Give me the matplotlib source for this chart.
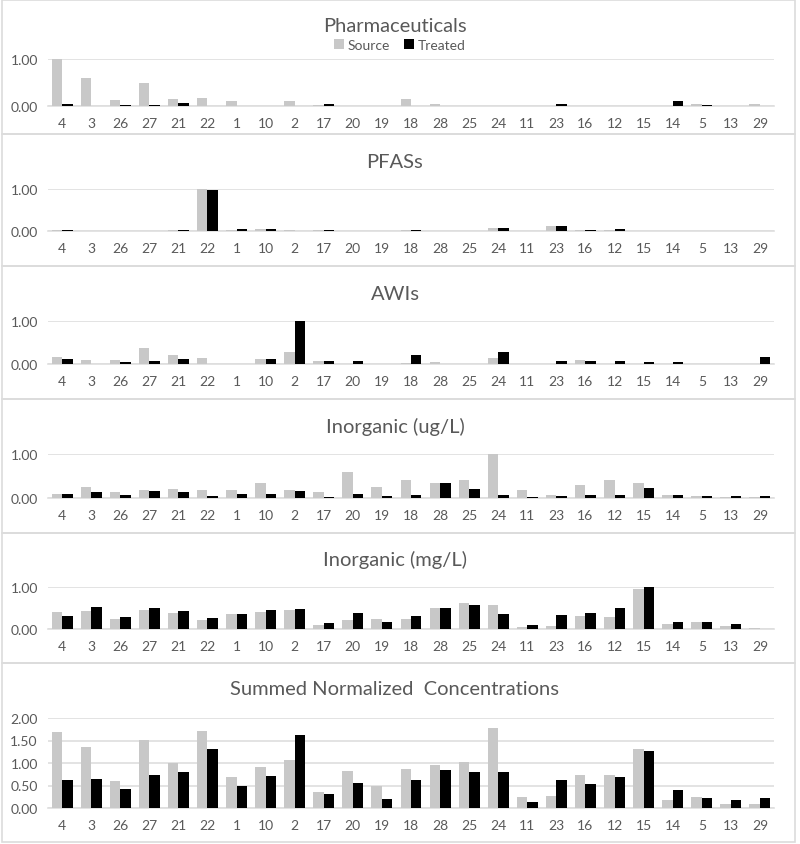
import numpy as np
import matplotlib
matplotlib.use("Agg")
import matplotlib.pyplot as plt
from matplotlib.patches import Rectangle

# Calibri Light no esta, usamos Lato
plt.rcParams['font.family'] = ['Lato', 'DejaVu Sans']

# Datos
sitios = ['4', '3', '26', '27', '21', '22', '1', '10', '2', '17', '20', '19', '18',
          '28', '25', '24', '11', '23', '16', '12', '15', '14', '5', '13', '29']

pharma_source = [1.00, 0.59, 0.12, 0.50, 0.15, 0.18, 0.10, 0.00, 0.10, 0.02, 0.00, 0.00, 0.15,
                 0.05, 0.00, 0.00, 0.00, 0.00, 0.00, 0.00, 0.00, 0.00, 0.04, 0.00, 0.04]
pharma_treated = [0.05, 0.00, 0.03, 0.03, 0.07, 0.00, 0.00, 0.00, 0.00, 0.04, 0.00, 0.00, 0.00,
                  0.00, 0.00, 0.00, 0.00, 0.04, 0.00, 0.00, 0.00, 0.11, 0.03, 0.00, 0.00]

pfas_source = [0.02, 0.00, 0.00, 0.00, 0.02, 1.00, 0.03, 0.05, 0.03, 0.02, 0.00, 0.00, 0.03,
               0.00, 0.00, 0.07, 0.00, 0.12, 0.02, 0.02, 0.00, 0.00, 0.00, 0.00, 0.00]
pfas_treated = [0.03, 0.00, 0.00, 0.00, 0.03, 0.98, 0.04, 0.05, 0.00, 0.03, 0.00, 0.00, 0.03,
                0.00, 0.00, 0.07, 0.00, 0.12, 0.03, 0.04, 0.00, 0.00, 0.00, 0.00, 0.00]

awi_source = [0.17, 0.10, 0.10, 0.38, 0.21, 0.14, 0.00, 0.11, 0.28, 0.06, 0.00, 0.00, 0.03,
              0.05, 0.00, 0.13, 0.00, 0.00, 0.10, 0.00, 0.00, 0.00, 0.00, 0.00, 0.00]
awi_treated = [0.12, 0.00, 0.04, 0.06, 0.11, 0.00, 0.00, 0.11, 1.00, 0.06, 0.06, 0.00, 0.21,
               0.00, 0.00, 0.28, 0.00, 0.07, 0.06, 0.06, 0.04, 0.04, 0.00, 0.00, 0.17]

inorg_ug_source = [0.08, 0.24, 0.13, 0.19, 0.20, 0.19, 0.19, 0.33, 0.19, 0.14, 0.60, 0.26, 0.42,
                   0.33, 0.41, 1.00, 0.19, 0.07, 0.29, 0.41, 0.35, 0.06, 0.04, 0.03, 0.03]
inorg_ug_treated = [0.10, 0.13, 0.06, 0.16, 0.13, 0.04, 0.09, 0.09, 0.16, 0.03, 0.10, 0.04, 0.06,
                    0.33, 0.20, 0.07, 0.03, 0.04, 0.06, 0.07, 0.23, 0.07, 0.04, 0.04, 0.04]

inorg_mg_source = [0.41, 0.42, 0.25, 0.45, 0.39, 0.21, 0.35, 0.40, 0.45, 0.10, 0.22, 0.23, 0.23,
                   0.50, 0.61, 0.56, 0.04, 0.06, 0.32, 0.29, 0.96, 0.11, 0.17, 0.06, 0.03]
inorg_mg_treated = [0.32, 0.52, 0.29, 0.50, 0.44, 0.27, 0.36, 0.45, 0.47, 0.15, 0.38, 0.17, 0.32,
                    0.50, 0.57, 0.36, 0.10, 0.33, 0.38, 0.49, 1.00, 0.17, 0.17, 0.13, 0.00]

sum_source = [1.69, 1.36, 0.60, 1.51, 0.99, 1.71, 0.70, 0.92, 1.07, 0.35, 0.82, 0.50, 0.87,
              0.95, 1.03, 1.77, 0.24, 0.26, 0.73, 0.73, 1.31, 0.18, 0.25, 0.10, 0.08]
sum_treated = [0.63, 0.65, 0.43, 0.74, 0.79, 1.31, 0.50, 0.71, 1.63, 0.32, 0.55, 0.21, 0.63,
               0.84, 0.81, 0.79, 0.13, 0.62, 0.53, 0.68, 1.26, 0.40, 0.23, 0.17, 0.23]

titulos = ['Pharmaceuticals', 'PFASs', 'AWIs', 'Inorganic (ug/L)', 'Inorganic (mg/L)',
           'Summed Normalized  Concentrations']
fuentes = [pharma_source, pfas_source, awi_source, inorg_ug_source, inorg_mg_source, sum_source]
tratados = [pharma_treated, pfas_treated, awi_treated, inorg_ug_treated, inorg_mg_treated, sum_treated]

# Posiciones en pixeles (desde arriba): caja, linea superior, linea cero, titulo
cajas = [(1, 135), (135, 267), (267, 400), (400, 534), (534, 664), (664, 843)]
lineas = [(60, 107), (190, 232), (322, 365), (455, 499), (588, 630), (719, 809)]
pos_titulo = [27, 163, 294, 427, 560, 690]

W, H = 800, 845
gris_txt = '#595959'
gris_fuente = '#c8c8c8'
gris_grid = '#dedede'

fig = plt.figure(figsize=(W / 100, H / 100), dpi=100)
x = np.arange(len(sitios))
ancho = 0.36
izq, der = 47.5, 774.5

for i in range(6):
    # Caja alrededor de cada panel
    y0, y1 = cajas[i]
    fig.patches.append(Rectangle((2 / W, 1 - y1 / H), 793 / W, (y1 - y0) / H,
                                 transform=fig.transFigure, fill=False,
                                 edgecolor='#dcdcdc', linewidth=1.2))

    top, cero = lineas[i]
    ax = fig.add_axes([izq / W, 1 - cero / H, (der - izq) / W, (cero - top) / H])
    ymax = 2.0 if i == 5 else 1.0
    ax.bar(x - ancho / 2, fuentes[i], ancho, color=gris_fuente, label='Source', zorder=3)
    ax.bar(x + ancho / 2, tratados[i], ancho, color='black', label='Treated', zorder=3)
    ax.set_xlim(-0.5, len(sitios) - 0.5)
    ax.set_ylim(0, ymax)
    if i == 5:
        ax.set_yticks([0, 0.5, 1.0, 1.5, 2.0])
    else:
        ax.set_yticks([0, 1.0])
    ax.set_yticklabels([f'{t:.2f}' for t in ax.get_yticks()])
    ax.set_xticks(x)
    ax.set_xticklabels(sitios)
    ax.grid(axis='y', color=gris_grid, linewidth=1.2, zorder=0)
    ax.set_axisbelow(True)
    for s in ['top', 'right', 'left']:
        ax.spines[s].set_visible(False)
    ax.spines['bottom'].set_color(gris_grid)
    ax.spines['bottom'].set_linewidth(1.2)
    ax.tick_params(length=0, colors=gris_txt, labelsize=10)
    ax.tick_params(axis='x', pad=8)
    ax.tick_params(axis='y', pad=7)

    # Titulo de cada panel
    fig.text(395 / W, 1 - pos_titulo[i] / H, titulos[i], ha='center', va='center',
             fontsize=14.5, color=gris_txt)

    if i == 0:
        ax.legend(loc='center', bbox_to_anchor=(0.5, 1 - 46 / H), bbox_transform=fig.transFigure,
                  ncol=2, frameon=False, fontsize=10, labelcolor=gris_txt,
                  handlelength=0.7, handleheight=0.7, handletextpad=0.3, columnspacing=1.0)

plt.savefig('out.png', dpi=100)
